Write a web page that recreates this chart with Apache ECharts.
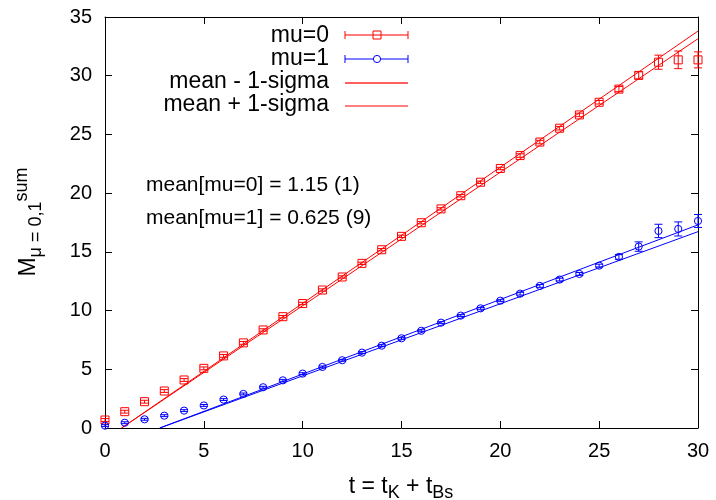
<!DOCTYPE html>
<html>
<head>
<meta charset="utf-8">
<title>M sum vs t</title>
<script src="https://cdn.jsdelivr.net/npm/echarts@6/dist/echarts.min.js"></script>
<style>
  html, body { margin: 0; padding: 0; background: #fff; }
  #main { width: 716px; height: 500px; }
</style>
</head>
<body>
<div id="main"></div>
<script type="text/javascript">
// time slices
var tVals = [0, 1, 2, 3, 4, 5, 6, 7, 8, 9, 10, 11, 12, 13, 14, 15, 16, 17, 18, 19, 20,
             21, 22, 23, 24, 25, 26, 27, 28, 29, 30];

// mu=0 data and errors
var mu0Vals = [0.68, 1.39, 2.24, 3.15, 4.09, 5.08, 6.14, 7.25, 8.35, 9.48, 10.6,
               11.75, 12.86, 14.02, 15.18, 16.32, 17.48, 18.66, 19.78, 20.93, 22.1,
               23.2, 24.35, 25.53, 26.66, 27.74, 28.86, 30.03, 31.15, 31.35, 31.35];
var mu0Errs = [0.12, 0.12, 0.12, 0.12, 0.12, 0.12, 0.12, 0.12, 0.1, 0.1, 0.1,
               0.1, 0.1, 0.1, 0.1, 0.1, 0.1, 0.1, 0.1, 0.1, 0.1,
               0.15, 0.15, 0.15, 0.15, 0.15, 0.22, 0.3, 0.6, 0.75, 0.68];

// mu=1 data and errors
var mu1Vals = [0.2, 0.45, 0.74, 1.05, 1.48, 1.92, 2.42, 2.9, 3.47, 4.06, 4.63,
               5.2, 5.77, 6.42, 7.01, 7.64, 8.28, 8.97, 9.57, 10.19, 10.84,
               11.44, 12.1, 12.64, 13.12, 13.83, 14.57, 15.45, 16.78, 16.95, 17.63];
var mu1Errs = [0.08, 0.08, 0.08, 0.08, 0.08, 0.08, 0.08, 0.08, 0.08, 0.08, 0.08,
               0.08, 0.08, 0.08, 0.08, 0.08, 0.08, 0.08, 0.08, 0.08, 0.08,
               0.12, 0.12, 0.12, 0.12, 0.12, 0.2, 0.4, 0.57, 0.6, 0.55];

// fit lines (mean -/+ 1-sigma), end points
var mu0Minus = [[0.84, 0], [30, 33.15]];
var mu0Plus  = [[0.84, 0], [30, 33.8]];
var mu1Minus = [[2.77, 0], [30, 16.72]];
var mu1Plus  = [[2.77, 0], [30, 17.3]];

var FONT = 'Liberation Sans, Arial, Helvetica, sans-serif';
var RED = '#ff0000';
var BLUE = '#0000ff';

function pack(vals, errs) {
  var out = [];
  for (var i = 0; i < tVals.length; i++) {
    out.push([tVals[i], vals[i], errs[i]]);
  }
  return out;
}

function errRender(marker) {
  return function (params, api) {
    var x = api.value(0), y = api.value(1), e = api.value(2);
    var p = api.coord([x, y]);
    var hi = api.coord([x, y + e]);
    var lo = api.coord([x, y - e]);
    var c = api.visual('color');
    var kids = [
      {type: 'line', shape: {x1: p[0], y1: hi[1], x2: p[0], y2: lo[1]}, style: {stroke: c, lineWidth: 1}},
      {type: 'line', shape: {x1: p[0] - 4, y1: hi[1], x2: p[0] + 4, y2: hi[1]}, style: {stroke: c, lineWidth: 1}},
      {type: 'line', shape: {x1: p[0] - 4, y1: lo[1], x2: p[0] + 4, y2: lo[1]}, style: {stroke: c, lineWidth: 1}}
    ];
    if (marker == 'square') {
      kids.push({type: 'rect', shape: {x: p[0] - 4, y: p[1] - 4, width: 8, height: 8},
        style: {stroke: c, fill: null, lineWidth: 1}});
    } else {
      kids.push({type: 'circle', shape: {cx: p[0], cy: p[1], r: 3.6},
        style: {stroke: c, fill: null, lineWidth: 1}});
    }
    return {type: 'group', children: kids};
  };
}

function fitLine(data, color) {
  return {
    type: 'line',
    data: data,
    symbol: 'none',
    lineStyle: {color: color, width: 1},
    silent: true,
    animation: false
  };
}

function legendText(y, txt) {
  return {type: 'text', x: 329, y: y,
    style: {text: txt, font: '23px ' + FONT, fill: '#000', align: 'right', verticalAlign: 'middle'}};
}

var myChart = echarts.init(document.getElementById('main'));

var axisCommon = {
  min: 0,
  interval: 5,
  axisLine: {show: true, onZero: false, lineStyle: {color: '#000', width: 1}},
  axisTick: {show: true, inside: true, length: 7, lineStyle: {color: '#000'}},
  splitLine: {show: false}
};

var option = {
  animation: false,
  backgroundColor: '#fff',
  grid: {left: 105, right: 18, top: 17, bottom: 72},
  xAxis: [
    Object.assign({}, axisCommon, {
      type: 'value', max: 30, position: 'bottom',
      axisLabel: {color: '#000', fontSize: 20, fontFamily: FONT, margin: 13}
    }),
    Object.assign({}, axisCommon, {
      type: 'value', max: 30, position: 'top', axisLabel: {show: false}
    })
  ],
  yAxis: [
    Object.assign({}, axisCommon, {
      type: 'value', max: 35, position: 'left',
      axisLabel: {color: '#000', fontSize: 20, fontFamily: FONT, margin: 13}
    }),
    Object.assign({}, axisCommon, {
      type: 'value', max: 35, position: 'right', axisLabel: {show: false}
    })
  ],
  series: [
    fitLine(mu0Minus, RED),
    fitLine(mu0Plus, RED),
    fitLine(mu1Minus, BLUE),
    fitLine(mu1Plus, BLUE),
    {
      name: 'mu=0',
      type: 'custom',
      renderItem: errRender('square'),
      itemStyle: {color: RED},
      encode: {x: 0, y: 1},
      data: pack(mu0Vals, mu0Errs),
      clip: false,
      z: 5
    },
    {
      name: 'mu=1',
      type: 'custom',
      renderItem: errRender('circle'),
      itemStyle: {color: BLUE},
      encode: {x: 0, y: 1},
      data: pack(mu1Vals, mu1Errs),
      clip: false,
      z: 5
    }
  ],
  graphic: [
    // legend
    legendText(36, 'mu=0'),
    legendText(59, 'mu=1'),
    legendText(82, 'mean - 1-sigma'),
    legendText(105, 'mean + 1-sigma'),
    {type: 'line', shape: {x1: 345, y1: 35, x2: 408, y2: 35}, style: {stroke: '#ff5050', lineWidth: 1.5}},
    {type: 'line', shape: {x1: 345, y1: 31, x2: 345, y2: 39}, style: {stroke: RED, lineWidth: 1}},
    {type: 'line', shape: {x1: 408, y1: 31, x2: 408, y2: 39}, style: {stroke: RED, lineWidth: 1}},
    {type: 'rect', shape: {x: 373, y: 31, width: 8, height: 8}, style: {stroke: RED, fill: null, lineWidth: 1}},
    {type: 'line', shape: {x1: 345, y1: 59, x2: 408, y2: 59}, style: {stroke: BLUE, lineWidth: 1}},
    {type: 'line', shape: {x1: 345, y1: 55, x2: 345, y2: 63}, style: {stroke: BLUE, lineWidth: 1}},
    {type: 'line', shape: {x1: 408, y1: 55, x2: 408, y2: 63}, style: {stroke: BLUE, lineWidth: 1}},
    {type: 'circle', shape: {cx: 377, cy: 59, r: 3.6}, style: {stroke: BLUE, fill: '#fff', lineWidth: 1}},
    {type: 'line', shape: {x1: 345, y1: 83, x2: 408, y2: 83}, style: {stroke: '#ff6060', lineWidth: 2}},
    {type: 'line', shape: {x1: 345, y1: 106, x2: 408, y2: 106}, style: {stroke: RED, lineWidth: 1}},
    // annotations
    {type: 'text', x: 146, y: 185, style: {text: 'mean[mu=0] = 1.15 (1)', font: '21px ' + FONT, fill: '#000', align: 'left', verticalAlign: 'middle'}},
    {type: 'text', x: 146, y: 218, style: {text: 'mean[mu=1] = 0.625 (9)', font: '21px ' + FONT, fill: '#000', align: 'left', verticalAlign: 'middle'}},
    // axis titles
    {
      type: 'text', x: 401, y: 487,
      style: {
        text: '{m|t = t}{s|K}{m| + t}{s|Bs}',
        align: 'center', verticalAlign: 'middle',
        rich: {
          m: {fontSize: 23, fontFamily: FONT, color: '#000', lineHeight: 30},
          s: {fontSize: 18, fontFamily: FONT, color: '#000', lineHeight: 18, verticalAlign: 'bottom'}
        }
      }
    },
    {
      type: 'text', x: 29, y: 222, rotation: Math.PI / 2,
      style: {
        text: '{m|M}{s|μ = 0,1}{p|sum}',
        align: 'center', verticalAlign: 'middle',
        rich: {
          m: {fontSize: 23, fontFamily: FONT, color: '#000', lineHeight: 32},
          s: {fontSize: 18, fontFamily: FONT, color: '#000', lineHeight: 18, verticalAlign: 'bottom'},
          p: {fontSize: 18, fontFamily: FONT, color: '#000', lineHeight: 18, verticalAlign: 'top'}
        }
      }
    }
  ]
};

myChart.setOption(option);
</script>
</body>
</html>
